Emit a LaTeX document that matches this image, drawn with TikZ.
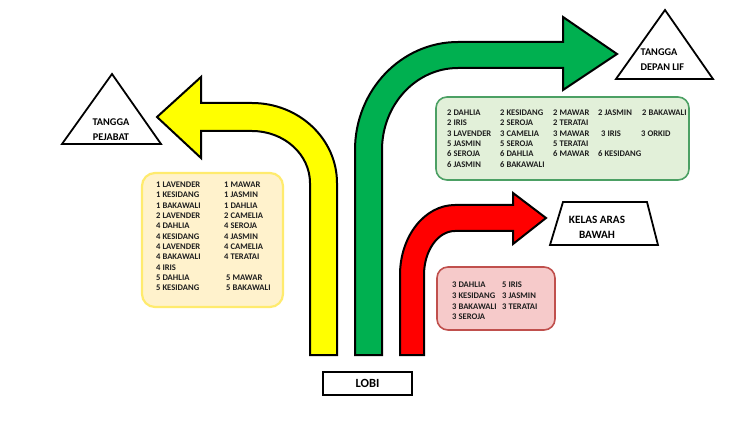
\documentclass[tikz,border=0pt]{standalone}
\usepackage{fontspec}
\setmainfont{Carlito}
\definecolor{ylwarrow}{HTML}{FFFF00}
\definecolor{grnarrow}{HTML}{00B050}
\definecolor{redarrow}{HTML}{FF0000}
\definecolor{ylwfill}{HTML}{FFF2CC}
\definecolor{ylwline}{HTML}{FFEB6E}
\definecolor{grnfill}{HTML}{E2F0D9}
\definecolor{grnline}{HTML}{4CA064}
\definecolor{redfill}{HTML}{F6CACA}
\definecolor{redline}{HTML}{C0504D}
\definecolor{txtdark}{HTML}{1E1E1E}
\begin{document}
\begin{tikzpicture}[x=1pt,y=-1pt,
  arrowshape/.style={draw=black,line width=2pt,line join=miter},
  place/.style={draw=black,line width=1.8pt,fill=white,line join=miter},
  lbl/.style={font=\fontsize{10.3}{14.5}\selectfont\bfseries,text=black,inner sep=0pt,align=center},
  listbox/.style={rounded corners=13pt},
  listtext/.style={font=\fontsize{8.6}{10.3}\selectfont\bfseries,text=txtdark,inner sep=0pt,anchor=north west}]
\useasboundingbox (0,0) rectangle (750,422);
\fill[white] (0,0) rectangle (750,422);

% yellow arrow
\path[arrowshape,fill=ylwarrow]
  (310,355) -- (310,183) .. controls (310,154.3) and (284,131) .. (252,131)
  -- (201,131) -- (201,158) -- (157,117) -- (201,77) -- (201,103) -- (252,103)
  .. controls (298.9,103) and (337,138.8) .. (337,183) -- (337,355) -- cycle;

% green arrow
\path[arrowshape,fill=grnarrow]
  (355,355) -- (355,150) .. controls (355,90.4) and (401.1,42) .. (458,42)
  -- (563,42) -- (563,17) -- (617,54) -- (563,90) -- (563,68) -- (458,68)
  .. controls (416,68) and (382,104.7) .. (382,150) -- (382,355) -- cycle;

% red arrow
\path[arrowshape,fill=redarrow]
  (400,355) -- (400,275) .. controls (400,236.3) and (424.6,205) .. (455,205)
  -- (513,205) -- (513,193) -- (546,218) -- (513,244) -- (513,231) -- (455,231)
  .. controls (437.9,231) and (424,250.7) .. (424,275) -- (424,355) -- cycle;

% destinations
\draw[place] (62,144) -- (112,74) -- (161,144) -- cycle;
\node[lbl] (pejabat) at (111,129.5) {TANGGA\\PEJABAT};

\draw[place] (616,79) -- (665,10) -- (713,79) -- cycle;
\node[lbl,align=left,anchor=west] (lif) at (640.5,59.5) {TANGGA\\DEPAN LIF};

\draw[place] (563,202) -- (647,202) -- (658,245) -- (550,245) -- cycle;
\node[lbl,font=\fontsize{11.2}{15}\selectfont\bfseries] (kelas) at (597,227.5) {KELAS ARAS\\BAWAH};

\node[place,minimum width=89pt,minimum height=23pt,inner sep=0pt,font=\fontsize{12.5}{14}\selectfont\bfseries] (lobi) at (367.5,383.5) {LOBI};

% yellow list
\draw[listbox,fill=ylwfill,draw=ylwline,line width=2.2pt] (142,173) rectangle (283,307);
\node[listtext] (ylist) at (156,180.2) {%
\begin{tabular}{@{}p{68pt}@{}l@{}}
1 LAVENDER & 1 MAWAR\\
1 KESIDANG & 1 JASMIN\\
1 BAKAWALI & 1 DAHLIA\\
2 LAVENDER & 2 CAMELIA\\
4 DAHLIA & 4 SEROJA\\
4 KESIDANG & 4 JASMIN\\
4 LAVENDER & 4 CAMELIA\\
4 BAKAWALI & 4 TERATAI\\
4 IRIS & \\
5 DAHLIA & \hspace{2pt}5 MAWAR\\
5 KESIDANG & \hspace{2pt}5 BAKAWALI
\end{tabular}};

% green list
\draw[listbox,rounded corners=11pt,fill=grnfill,draw=grnline,line width=1.6pt] (436,97) rectangle (689,180);
\node[listtext] (glist) at (447,108.2) {%
\begin{tabular}{@{}p{53pt}@{}p{53pt}@{}p{45pt}@{}p{44pt}@{}l@{}}
2 DAHLIA & 2 KESIDANG & 2 MAWAR & 2 JASMIN & 2 BAKAWALI\\
2 IRIS & 2 SEROJA & 2 TERATAI & & \\
3 LAVENDER & 3 CAMELIA & 3 MAWAR & \hspace{3pt}3 IRIS & \hspace{-1pt}3 ORKID\\
5 JASMIN & 5 SEROJA & 5 TERATAI & & \\
6 SEROJA & 6 DAHLIA & 6 MAWAR & 6 KESIDANG & \\
6 JASMIN & 6 BAKAWALI & & &
\end{tabular}};

% red list
\draw[listbox,rounded corners=11pt,fill=redfill,draw=redline,line width=1.6pt] (437,267) rectangle (555,330);
\node[listtext,font=\fontsize{8.6}{10.6}\selectfont\bfseries] (rlist) at (452,280.2) {%
\begin{tabular}{@{}p{50pt}@{}l@{}}
3 DAHLIA & 5 IRIS\\
3 KESIDANG & 3 JASMIN\\
3 BAKAWALI & 3 TERATAI\\
3 SEROJA &
\end{tabular}};
\end{tikzpicture}
\end{document}
